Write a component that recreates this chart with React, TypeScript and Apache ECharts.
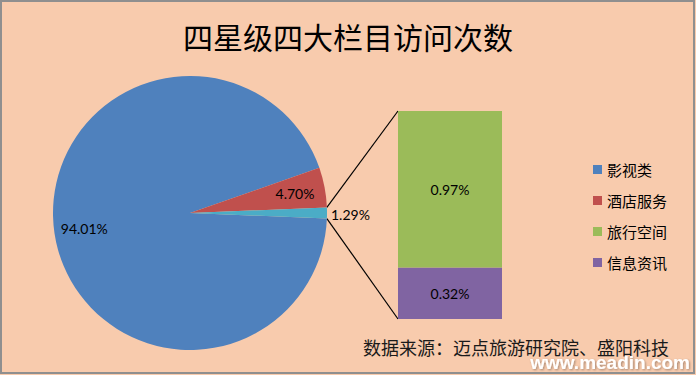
import React, { useEffect, useRef } from "react";
import * as echarts from "echarts";

const titleText = "四星级四大栏目访问次数";
const sourceText = "数据来源：迈点旅游研究院、盛阳科技";
const watermarkText = "www.meadin.com";

const pieNames = ["影视类", "酒店服务", "其他"];
const pieValues = [94.01, 4.7, 1.29];
const pieColors = ["#4F81BD", "#C0504D", "#4BACC6"];

const barNames = ["旅行空间", "信息资讯"];
const barValues = [0.97, 0.32];
const barColors = ["#9BBB59", "#8064A2"];

const legendNames = ["影视类", "酒店服务", "旅行空间", "信息资讯"];

// layout
const W = 696;
const H = 375;
const CX = 190;
const CY = 213;
const R = 137;
const GRID = { left: 398, top: 111, width: 104, height: 208 };
const NUM_FONT = "Lato, 'Liberation Sans', sans-serif";
const CJK_FONT = "'Noto Sans CJK SC', sans-serif";

export default function App() {
  const ref = useRef<HTMLDivElement>(null);

  useEffect(() => {
    document.body.style.margin = "0";
    const chart = echarts.init(ref.current!, null, { renderer: "svg" });

    const total = pieValues.reduce((a, b) => a + b, 0);
    const otherIdx = pieValues.length - 1;
    const halfOtherDeg = (pieValues[otherIdx] / total) * 360 / 2;
    // clockwise order: 影视类, 酒店服务, 其他 ; 其他 centred on 3 o'clock
    const startAngle = 360 - halfOtherDeg;

    const midAngle = (i: number) => {
      let cum = 0;
      for (let k = 0; k < i; k++) cum += pieValues[k];
      return startAngle - ((cum + pieValues[i] / 2) / total) * 360;
    };

    const rad = (d: number) => (d * Math.PI) / 180;
    const topEdge = {
      x: CX + R * Math.cos(rad(halfOtherDeg)),
      y: CY - R * Math.sin(rad(halfOtherDeg)),
    };
    const botEdge = {
      x: CX + R * Math.cos(rad(-halfOtherDeg)),
      y: CY - R * Math.sin(rad(-halfOtherDeg)),
    };
    const barTotal = barValues.reduce((a, b) => a + b, 0);

    // stack from bottom: last listed first
    const barOrder = [...barNames.keys()].reverse();

    const option: any = {
      animation: false,
      backgroundColor: "#F8CBAD",
      title: {
        text: titleText,
        left: "center",
        top: 16,
        textStyle: {
          fontFamily: CJK_FONT,
          fontSize: 30,
          fontWeight: "normal",
          color: "#000",
        },
      },
      legend: {
        data: legendNames,
        orient: "vertical",
        left: 588,
        top: 157,
        icon: "rect",
        itemWidth: 9,
        itemHeight: 9,
        itemGap: 16,
        selectedMode: false,
        textStyle: {
          fontFamily: CJK_FONT,
          fontSize: 15,
          color: "#000",
        },
      },
      grid: { ...GRID },
      xAxis: { type: "category", data: [""], show: false },
      yAxis: { type: "value", min: 0, max: barTotal, show: false },
      series: [
        {
          type: "pie",
          name: "pie",
          center: [CX, CY],
          radius: R,
          startAngle,
          clockwise: true,
          silent: true,
          data: pieNames.map((n, i) => ({
            name: n,
            value: pieValues[i],
            itemStyle: { color: pieColors[i] },
          })),
          label: {
            show: true,
            position: "inside",
            formatter: (p: any) => p.value.toFixed(2) + "%",
            fontFamily: NUM_FONT,
            fontSize: 14,
            color: "#000",
          },
          labelLine: { show: false },
          labelLayout: (p: any) => {
            const i = p.dataIndex;
            if (i === otherIdx) {
              return { x: CX + R + 4, y: CY + 1, align: "left", verticalAlign: "middle" };
            }
            const a = rad(midAngle(i));
            const r = R * 0.78;
            return {
              x: CX + r * Math.cos(a),
              y: CY - r * Math.sin(a),
              align: "center",
              verticalAlign: "middle",
            };
          },
        },
        ...barOrder.map((i) => ({
          type: "bar",
          name: barNames[i],
          stack: "s",
          barWidth: "100%",
          silent: true,
          data: [barValues[i]],
          itemStyle: { color: barColors[i] },
          label: {
            show: true,
            position: "inside",
            formatter: (p: any) => p.value.toFixed(2) + "%",
            fontFamily: NUM_FONT,
            fontSize: 14,
            color: "#000",
          },
        })),
      ],
      graphic: [
        {
          type: "line",
          silent: true,
          shape: { x1: topEdge.x, y1: topEdge.y, x2: GRID.left, y2: GRID.top },
          style: { stroke: "#000", lineWidth: 1.2 },
        },
        {
          type: "line",
          silent: true,
          shape: {
            x1: botEdge.x,
            y1: botEdge.y,
            x2: GRID.left,
            y2: GRID.top + GRID.height,
          },
          style: { stroke: "#000", lineWidth: 1.2 },
        },
        {
          type: "text",
          silent: true,
          x: 363,
          y: 347,
          style: {
            text: sourceText,
            fontFamily: CJK_FONT,
            fontSize: 18,
            fill: "#1a1a1a",
            textVerticalAlign: "middle",
            verticalAlign: "middle",
          },
        },
        {
          type: "text",
          silent: true,
          x: 690,
          y: 362,
          z: 100,
          style: {
            text: watermarkText,
            fontFamily: "'Liberation Sans', Arial, sans-serif",
            fontWeight: "bold",
            fontSize: 19,
            fill: "#ffffff",
            align: "right",
            textAlign: "right",
            verticalAlign: "middle",
            textVerticalAlign: "middle",
            textShadowColor: "rgba(0,0,0,0.35)",
            textShadowBlur: 2,
            textShadowOffsetX: 1,
            textShadowOffsetY: 1,
          },
        },
        {
          type: "rect",
          silent: true,
          z: 101,
          shape: { x: 1, y: 1, width: W - 3, height: H - 3 },
          style: { fill: "none", stroke: "#8f8f8f", lineWidth: 2 },
        },
      ],
    };

    chart.setOption(option);
    return () => chart.dispose();
  }, []);

  return (
    <div
      ref={ref}
      style={{ position: "absolute", left: 0, top: 0, width: W, height: H }}
    />
  );
}
